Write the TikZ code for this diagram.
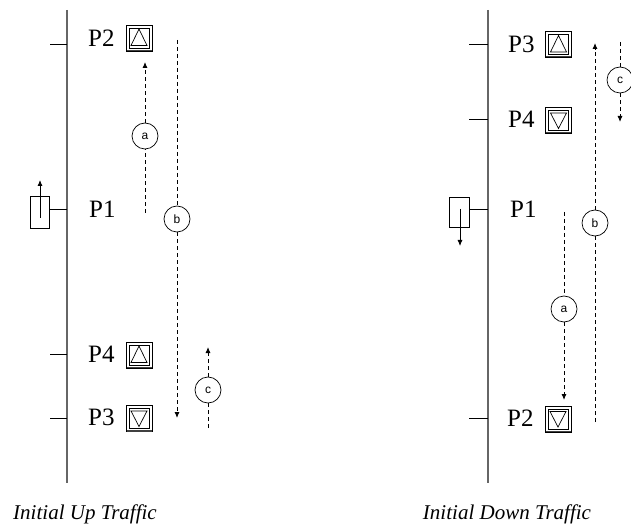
\documentclass[tikz,border=0pt]{standalone}
\usepackage{fontspec}
\setmainfont{Liberation Serif}
\setsansfont{Liberation Sans}
\usetikzlibrary{arrows.meta}
\begin{document}
\begin{tikzpicture}[x=1pt,y=-1pt,
  mainline/.style={draw=black!60, line width=1.3pt},
  tick/.style={draw=black, line width=0.8pt},
  dline/.style={draw=black, line width=0.9pt, dash pattern=on 4pt off 3pt},
  tip/.style={-{Latex[length=6pt,width=5pt]}},
  circ/.style={circle, draw, line width=0.7pt, fill=white, minimum size=26pt, inner sep=0pt, font=\sffamily\fontsize{12}{12}\selectfont},
  plabel/.style={anchor=west, inner sep=0pt, font=\fontsize{25}{25}\selectfont},
  carbox/.style={draw, line width=0.8pt, minimum width=19pt, minimum height=32pt, inner sep=0pt},
  caption/.style={font=\itshape\fontsize{21}{21}\selectfont},
  btnup/.pic={
    \draw[line width=0.7pt] (-13,-13) rectangle (13,13);
    \draw[line width=0.7pt] (-10,-10) rectangle (10,10);
    \draw[line width=1.4pt, black!75] (-12.5,12.3) -- (12.5,12.3);
    \draw[line width=0.7pt, line join=miter] (-8,7.5) -- (8,7.5) -- (0,-9) -- cycle;
  },
  btndown/.pic={
    \draw[line width=0.7pt] (-13,-13) rectangle (13,13);
    \draw[line width=0.7pt] (-10,-10) rectangle (10,10);
    \draw[line width=1.4pt, black!75] (-12.5,12.3) -- (12.5,12.3);
    \draw[line width=0.7pt, line join=miter] (-8,-7.5) -- (8,-7.5) -- (0,8) -- cycle;
  }
]
\useasboundingbox (0,0) rectangle (631,526);

% ---------------- Left: Initial Up Traffic ----------------
\draw[mainline] (67,10) coordinate (LT) -- (67,483) coordinate (LB);
\coordinate (LP2) at (67,44);
\coordinate (LP1) at (67,209);
\coordinate (LP4) at (67,354);
\coordinate (LP3) at (67,418);
\foreach \p in {LP2,LP4,LP3} \draw[tick] (\p) -- ++(-17,0);

\node[plabel] (lp2) at (88,38) {P2};
\node[plabel] (lp1) at (89,209.5) {P1};
\node[plabel] (lp4) at (88,354) {P4};
\node[plabel] (lp3) at (88,417) {P3};

\pic at (139,38) {btnup};
\pic at (139,355) {btnup};
\pic at (139,418.5) {btndown};

\node[carbox] (lcar) at (40,212) {};
\draw[tick] (lcar.east |- LP1) -- (LP1);
\coordinate (lcs) at (40,218);
\coordinate (lce) at (40,180);
\draw[line width=0.8pt, tip] (lcs) -- (lce);

% a
\node[circ] (la) at (145,136) {a};
\coordinate (las) at (145,213);
\coordinate (lae) at (145,62);
\draw[dline] (las) -- (la);
\draw[dline, tip] (la) -- (lae);
% b
\node[circ] (lb) at (177,219) {b};
\coordinate (lbs) at (177,40);
\coordinate (lbe) at (177,418);
\draw[dline] (lbs) -- (lb);
\draw[dline, tip] (lb) -- (lbe);
% c
\node[circ] (lc) at (208,390) {c};
\coordinate (lcs2) at (208,428);
\coordinate (lce2) at (208,347);
\draw[dline] (lcs2) -- (lc);
\draw[dline, tip] (lc) -- (lce2);

\node[caption] (lcap) at (85,514) {Initial Up Traffic};

% ---------------- Right: Initial Down Traffic ----------------
\draw[mainline] (488,10) coordinate (RT) -- (488,483) coordinate (RB);
\coordinate (RP3) at (488,44);
\coordinate (RP4) at (488,119);
\coordinate (RP1) at (488,209);
\coordinate (RP2) at (488,418);
\foreach \p in {RP3,RP4,RP2} \draw[tick] (\p) -- ++(-19,0);

\node[plabel] (rp3) at (508,44) {P3};
\node[plabel] (rp4) at (508,119.5) {P4};
\node[plabel] (rp1) at (510,209.5) {P1};
\node[plabel] (rp2) at (507,418.5) {P2};

\pic at (558.5,44.5) {btnup};
\pic at (558.5,120.5) {btndown};
\pic at (558,419) {btndown};

\node[carbox, minimum width=20pt, minimum height=30pt] (rcar) at (459,212) {};
\draw[tick] (rcar.east |- RP1) -- (RP1);
\coordinate (rcs) at (460,209);
\coordinate (rce) at (460,246);
\draw[line width=0.8pt, tip] (rcs) -- (rce);

% a
\node[circ] (ra) at (564,309) {a};
\coordinate (ras) at (564,212);
\coordinate (rae) at (564,400);
\draw[dline] (ras) -- (ra);
\draw[dline, tip] (ra) -- (rae);
% b
\node[circ] (rb) at (595,223) {b};
\coordinate (rbs) at (595,422);
\coordinate (rbe) at (595,43);
\draw[dline] (rbs) -- (rb);
\draw[dline, tip] (rb) -- (rbe);
% c
\node[circ] (rc) at (620,80) {c};
\coordinate (rcs2) at (620,42);
\coordinate (rce2) at (620,122);
\draw[dline] (rcs2) -- (rc);
\draw[dline, tip] (rc) -- (rce2);

\node[caption] (rcap) at (507,514) {Initial Down Traffic};
\end{tikzpicture}
\end{document}
